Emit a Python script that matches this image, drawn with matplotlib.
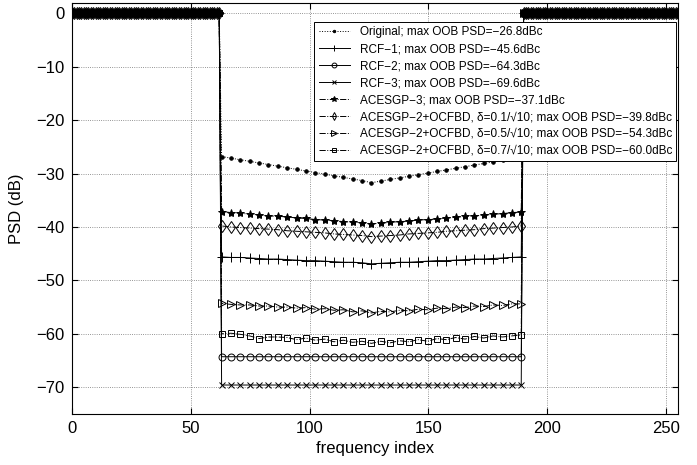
import numpy as np
import matplotlib
matplotlib.use("Agg")
import matplotlib.pyplot as plt

plt.rcParams['font.family'] = ['Liberation Sans', 'DejaVu Sans']

# in-band subcarriers (0 dB) and out-of-band samples
inband_left = np.arange(0, 63)
inband_right = np.arange(190, 256)
oob_idx = np.linspace(63, 189, 33)

orig = [-26.8, -27.1, -27.4, -27.7, -28.0, -28.3, -28.6, -28.9, -29.2, -29.5, -29.8,
        -30.1, -30.4, -30.7, -31.0, -31.3, -31.7, -31.4, -31.1, -30.8, -30.5, -30.2,
        -29.9, -29.6, -29.3, -29.0, -28.7, -28.4, -28.1, -27.8, -27.5, -27.3, -27.0]
rcf1 = [-45.6, -45.7, -45.7, -45.8, -45.9, -46.0, -46.0, -46.1, -46.2, -46.3, -46.3,
        -46.4, -46.5, -46.6, -46.6, -46.7, -46.9, -46.8, -46.7, -46.6, -46.6, -46.5,
        -46.4, -46.3, -46.3, -46.2, -46.1, -46.0, -46.0, -45.9, -45.8, -45.7, -45.6]
rcf2 = [-64.3, -64.3, -64.3, -64.3, -64.3, -64.3, -64.3, -64.3, -64.3, -64.3, -64.3,
        -64.3, -64.3, -64.3, -64.3, -64.3, -64.3, -64.3, -64.3, -64.3, -64.3, -64.3,
        -64.3, -64.3, -64.3, -64.3, -64.3, -64.3, -64.3, -64.3, -64.3, -64.3, -64.3]
rcf3 = [-69.6, -69.6, -69.6, -69.6, -69.6, -69.6, -69.6, -69.6, -69.6, -69.6, -69.6,
        -69.6, -69.6, -69.6, -69.6, -69.6, -69.6, -69.6, -69.6, -69.6, -69.6, -69.6,
        -69.6, -69.6, -69.6, -69.6, -69.6, -69.6, -69.6, -69.6, -69.6, -69.6, -69.6]
aces3 = [-37.1, -37.3, -37.4, -37.6, -37.7, -37.9, -38.0, -38.1, -38.3, -38.4, -38.6,
         -38.7, -38.8, -39.0, -39.1, -39.2, -39.4, -39.3, -39.1, -39.0, -38.9, -38.7,
         -38.6, -38.5, -38.3, -38.2, -38.0, -37.9, -37.8, -37.6, -37.5, -37.3, -37.2]
ocf01 = [-39.8, -40.0, -40.1, -40.2, -40.3, -40.4, -40.5, -40.7, -40.8, -40.9, -41.0,
         -41.1, -41.3, -41.4, -41.5, -41.6, -41.8, -41.7, -41.6, -41.5, -41.3, -41.2,
         -41.1, -41.0, -40.8, -40.7, -40.6, -40.5, -40.3, -40.2, -40.1, -40.0, -39.8]
ocf05 = [-54.3, -54.5, -54.6, -54.6, -54.8, -54.8, -55.0, -55.0, -55.2, -55.1, -55.4,
         -55.3, -55.6, -55.5, -55.9, -55.7, -56.1, -55.8, -55.9, -55.6, -55.7, -55.4,
         -55.5, -55.2, -55.3, -55.0, -55.1, -54.8, -54.9, -54.6, -54.7, -54.4, -54.4]
ocf07 = [-60.0, -59.9, -60.1, -60.4, -60.9, -60.6, -60.6, -60.7, -61.1, -60.8, -61.2,
         -61.0, -61.5, -61.2, -61.6, -61.4, -61.8, -61.4, -61.7, -61.3, -61.5, -61.1,
         -61.4, -60.9, -61.1, -60.7, -61.0, -60.5, -60.8, -60.4, -60.6, -60.4, -60.2]

labels = ["Original; max OOB PSD=\u221226.8dBc",
          "RCF\u22121; max OOB PSD=\u221245.6dBc",
          "RCF\u22122; max OOB PSD=\u221264.3dBc",
          "RCF\u22123; max OOB PSD=\u221269.6dBc",
          "ACESGP\u22123; max OOB PSD=\u221237.1dBc",
          "ACESGP\u22122+OCFBD, \u03b4=0.1/\u221a10; max OOB PSD=\u221239.8dBc",
          "ACESGP\u22122+OCFBD, \u03b4=0.5/\u221a10; max OOB PSD=\u221254.3dBc",
          "ACESGP\u22122+OCFBD, \u03b4=0.7/\u221a10; max OOB PSD=\u221260.0dBc"]
series = [orig, rcf1, rcf2, rcf3, aces3, ocf01, ocf05, ocf07]
styles = [(':', '.', 5, 'k'), ('-', '+', 7, 'k'), ('-', 'o', 5, 'none'),
          ('-', 'x', 4, 'k'), ('-.', '*', 6, 'k'), ('-.', 'd', 6, 'none'),
          ('-.', '>', 6, 'none'), ('-.', 's', 5, 'none')]

x = np.concatenate([inband_left, oob_idx, inband_right])

fig = plt.figure(figsize=(6.97, 4.65), dpi=100)
ax = fig.add_axes([0.103, 0.11, 0.87, 0.884])

for vals, lab, (ls, mk, ms, fc) in zip(series, labels, styles):
    y = np.concatenate([np.zeros(len(inband_left)), vals, np.zeros(len(inband_right))])
    ax.plot(x, y, color='k', ls=ls, marker=mk, ms=ms, mfc=fc, mec='k',
            lw=0.7, mew=0.7, label=lab)

ax.set_xlim(0, 255)
ax.set_ylim(-75, 2)
ax.set_xticks([0, 50, 100, 150, 200, 250])
ax.set_yticks([0, -10, -20, -30, -40, -50, -60, -70])
ax.grid(True, ls=':', color='0.45', lw=0.6)
ax.tick_params(direction='in', top=True, right=True, labelsize=12, length=4, pad=5)
for s in ax.spines.values():
    s.set_linewidth(0.8)
ax.set_xlabel("frequency index", fontsize=12, labelpad=4)
ax.set_ylabel("PSD (dB)", fontsize=12, labelpad=9)

leg = ax.legend(loc='upper right', bbox_to_anchor=(0.997, 0.953), fontsize=8.5,
                handlelength=2.7, handletextpad=0.8, labelspacing=0.42,
                borderpad=0.35, borderaxespad=0, fancybox=False, framealpha=1,
                markerscale=0.7)
leg.get_frame().set_edgecolor('k')
leg.get_frame().set_linewidth(0.7)

plt.savefig("out.png", dpi=100)
plt.close()
